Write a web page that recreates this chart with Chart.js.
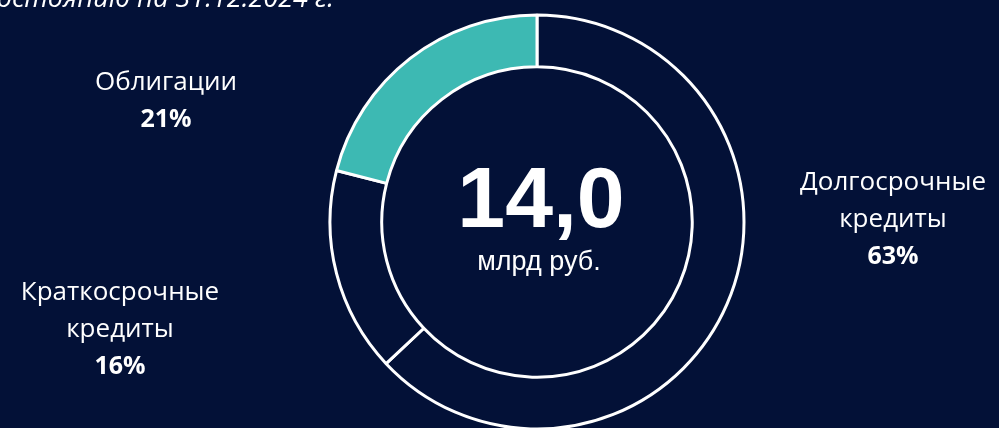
<!DOCTYPE html>
<html>
<head>
<meta charset="utf-8">
<script src="https://cdn.jsdelivr.net/npm/chart.js@4.4.1/dist/chart.umd.min.js"></script>
<style>
    html, body { margin: 0; padding: 0; background: #031137; overflow: hidden; }
    #wrap { position: relative; width: 999px; height: 428px; }
    .preload { position: absolute; left: -999px; top: 0; font-family: 'Liberation Sans'; }
</style>
</head>
<body>
<span class="preload">14,0 млрд руб.</span><span class="preload" style="font-weight:bold">14,0</span>
<div id="wrap"><canvas id="debtChart" width="999" height="428"></canvas></div>
<script>
    // Data
    const categories = [['Долгосрочные', 'кредиты'], ['Краткосрочные', 'кредиты'], ['Облигации']];
    const shares = [63, 16, 21];
    const segmentColors = ['#031137', '#031137', '#3db9b3'];
    const totalValue = '14,0';
    const totalUnit = 'млрд руб.';
    const titleText = 'Структура кредитного портфеля по состоянию на 31.12.2024 г.';

    // Layout of the outside labels (x = centre of text, y = first baseline)
    const labelAnchors = [
        { x: 893, y: 190 },
        { x: 120, y: 300 },
        { x: 166, y: 90 }
    ];
    const labelFont = "'Open Sans', 'Noto Sans', sans-serif";
    const centerFont = "'Liberation Sans', Arimo, Arial, sans-serif";
    const lineStep = 37;

    // Background, title, centre text and labels
    const decorPlugin = {
        id: 'decor',
        beforeDraw(chart) {
            const ctx = chart.ctx;
            ctx.save();
            ctx.fillStyle = '#031137';
            ctx.fillRect(0, 0, chart.width, chart.height);
            ctx.restore();
        },
        afterDraw(chart) {
            const ctx = chart.ctx;
            const arc = chart.getDatasetMeta(0).data[0];
            ctx.save();
            ctx.fillStyle = '#ffffff';

            // title, cut off at the top-left as in the slide
            ctx.font = `italic 27px ${labelFont}`;
            ctx.textAlign = 'right';
            ctx.textBaseline = 'alphabetic';
            ctx.fillText(titleText, 334, 7);

            // centre
            ctx.textAlign = 'center';
            ctx.font = `bold 86px ${centerFont}`;
            ctx.fillText(totalValue, arc.x + 4, arc.y + 5);
            ctx.font = `27px ${centerFont}`;
            ctx.fillText(totalUnit, arc.x + 2, arc.y + 48);

            // outside labels
            categories.forEach((lines, i) => {
                const a = labelAnchors[i];
                ctx.font = `26px ${labelFont}`;
                lines.forEach((line, j) => {
                    ctx.fillText(line, a.x, a.y + j * lineStep);
                });
                ctx.font = `bold 25px ${labelFont}`;
                ctx.fillText(shares[i] + '%', a.x, a.y + lines.length * lineStep);
            });
            ctx.restore();
        }
    };

    function drawChart() {
        new Chart(document.getElementById('debtChart').getContext('2d'), {
            type: 'doughnut',
            data: {
                labels: categories.map(c => c.join(' ')),
                datasets: [{
                    data: shares,
                    backgroundColor: segmentColors,
                    borderColor: '#ffffff',
                    borderWidth: 3,
                    clip: false
                }]
            },
            options: {
                responsive: false,
                animation: false,
                radius: 207,
                cutout: '75%',
                layout: { padding: { left: 75, right: 0, top: 16, bottom: 0 } },
                plugins: {
                    legend: { display: false },
                    tooltip: { enabled: false }
                }
            },
            plugins: [decorPlugin]
        });
    }

    Promise.all([
        document.fonts.load(`bold 86px ${centerFont}`, totalValue),
        document.fonts.load(`27px ${centerFont}`, totalUnit),
        document.fonts.load(`26px ${labelFont}`, 'Облигации'),
        document.fonts.load(`italic 27px ${labelFont}`, titleText)
    ]).catch(() => {}).then(drawChart);
</script>
</body>
</html>
